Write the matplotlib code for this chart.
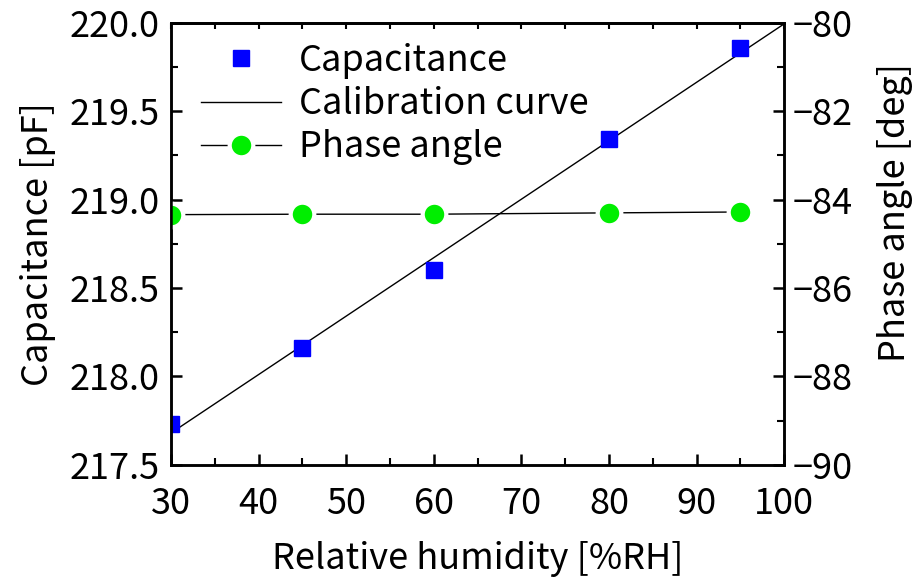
import matplotlib
matplotlib.use("Agg")
import matplotlib.pyplot as plt
from matplotlib.ticker import MultipleLocator
import numpy as np

humidity = [30, 45, 60, 80, 95]
capacitance = [217.73, 218.16, 218.60, 219.34, 219.86]
phase_angle = [-84.34, -84.33, -84.33, -84.30, -84.28]

plt.rcParams['font.family'] = ['Noto Sans CJK JP', 'DejaVu Sans']
plt.rcParams['font.size'] = 26
plt.rcParams['axes.linewidth'] = 1.8

fig = plt.figure(figsize=(9.15, 5.84), dpi=100)
ax1 = fig.add_axes([0.187, 0.204, 0.670, 0.757])
ax2 = ax1.twinx()

# calibration line from a linear fit of the capacitance points
coef = np.polyfit(humidity, capacitance, 1)
fit_x = np.array([30, 100])
calib, = ax1.plot(fit_x, np.polyval(coef, fit_x), color='black', lw=1,
                  label='Calibration curve')
cap, = ax1.plot(humidity, capacitance, 's', color='#0000ff', ms=12,
                label='Capacitance')
phase, = ax2.plot(humidity, phase_angle, '-o', color='black', lw=1,
                  mfc='#00ee00', mec='white', mew=3, ms=17,
                  label='Phase angle')

ax1.set_xlim(30, 100)
ax1.set_ylim(217.5, 220.0)
ax2.set_ylim(-90, -80)

ax1.xaxis.set_major_locator(MultipleLocator(10))
ax1.xaxis.set_minor_locator(MultipleLocator(5))
ax1.yaxis.set_major_locator(MultipleLocator(0.5))
ax1.yaxis.set_minor_locator(MultipleLocator(0.25))
ax1.yaxis.set_major_formatter(plt.FormatStrFormatter('%.1f'))
ax2.yaxis.set_major_locator(MultipleLocator(2))
ax2.yaxis.set_minor_locator(MultipleLocator(1))

for ax in (ax1, ax2):
    ax.tick_params(which='major', direction='in', length=8, width=1.8)
    ax.tick_params(which='minor', direction='in', length=5, width=1.5)
ax1.tick_params(axis='y', pad=8)
ax1.tick_params(axis='x', pad=15)
ax2.tick_params(axis='y', pad=6)

top = ax1.secondary_xaxis('top')
top.xaxis.set_major_locator(MultipleLocator(5))
top.tick_params(direction='in', length=4, width=1.5, labeltop=False)

ax1.set_xlabel('Relative humidity [%RH]', labelpad=14)
ax1.set_ylabel('Capacitance [pF]', labelpad=10)
ax2.set_ylabel('Phase angle [deg]')
ax2.yaxis.set_label_coords(1.152, 0.57)

ax1.legend([cap, calib, phase], ['Capacitance', 'Calibration curve', 'Phase angle'],
           loc='upper left', bbox_to_anchor=(0.02, 0.995), frameon=False,
           borderaxespad=0.1, handlelength=2.2, labelspacing=0.2,
           handletextpad=0.5)

fig.savefig('out.png', dpi=100)
